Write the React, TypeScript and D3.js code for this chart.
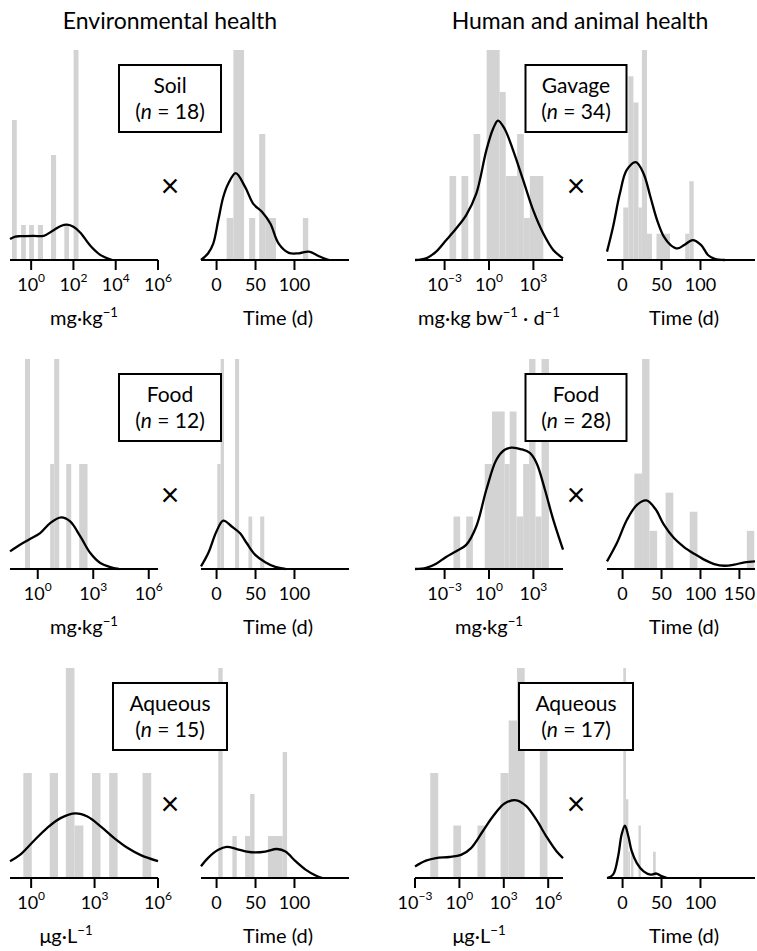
import React from "react";
import * as d3 from "d3";

// ---------------- DATA ----------------
// Concentration histograms: [log10 lower edge, log10 upper edge, count]
// Time histograms: [lower day, upper day, count]
// Density curves: [x (log10 or day), density in count units]

const soilConcBins = [[-0.905, -0.68, 4], [-0.476, -0.25, 1], [-0.095, 0.13, 1], [0.32, 0.56, 1], [0.94, 1.18, 3], [1.57, 1.79, 1], [2.01, 2.24, 6]];
const soilConcCurve = [[-1.0, 0.6], [-0.75, 0.67], [-0.52, 0.68], [0.11, 0.69], [0.59, 0.69], [1.06, 0.85], [1.4, 0.97], [1.7, 1.01], [2.0, 0.95], [2.33, 0.78], [2.81, 0.4], [3.29, 0.14], [3.84, 0.0]];
const soilTimeBins = [[12.9, 21.6, 1], [21.6, 35.3, 5], [41.8, 49.6, 1], [54.7, 62.5, 3], [62.5, 76.3, 1], [110.8, 117.7, 1]];
const soilTimeCurve = [[-20, 0], [-10.8, 0.16], [-4.3, 0.39], [2.2, 0.95], [8.6, 1.5], [15.1, 1.82], [24.6, 2.07], [36.6, 1.74], [47.4, 1.33], [58.2, 1.15], [69.0, 0.87], [79.7, 0.39], [92.7, 0.17], [105.6, 0.16], [118.5, 0.2], [131.5, 0.09], [144.4, 0]];

const gavageConcBins = [[-2.67, -2.22, 2], [-1.86, -1.4, 2], [-1.04, -0.59, 3], [-0.16, 0.72, 5], [0.72, 1.13, 4], [1.13, 1.9, 2], [1.9, 2.35, 3], [2.35, 2.76, 1], [2.76, 3.67, 2]];
const gavageConcCurve = [[-5.0, 0], [-4.25, 0.04], [-3.57, 0.2], [-2.9, 0.47], [-2.22, 0.75], [-1.54, 1.07], [-0.86, 1.58], [-0.18, 2.61], [0.27, 3.12], [0.61, 3.32], [1.06, 3.12], [1.63, 2.61], [2.31, 1.9], [2.99, 1.18], [3.67, 0.63], [4.34, 0.24], [5.0, 0.04]];
const gavageTimeBins = [[0.9, 7.4, 2], [7.4, 13.9, 7], [13.9, 20.4, 6], [20.4, 24.8, 2], [24.8, 31.3, 8], [31.3, 37.8, 1], [43.5, 60.9, 1], [80.4, 85.7, 1], [85.7, 91.3, 3]];
const gavageTimeCurve = [[-20, 0.32], [-12.2, 1.27], [-3.5, 2.53], [5.2, 3.42], [17.0, 3.73], [27.0, 3.29], [35.7, 2.41], [44.3, 1.52], [53.0, 0.89], [61.7, 0.57], [70.4, 0.44], [79.1, 0.57], [90.0, 0.76], [100.9, 0.57], [109.6, 0.19], [118.3, 0.04], [131.3, 0]];

const envFoodConcBins = [[-0.69, -0.42, 2], [0.67, 0.89, 1], [0.89, 1.16, 2], [1.54, 1.81, 1], [2.24, 2.69, 1]];
const envFoodConcCurve = [[-1.5, 0.168], [-0.96, 0.231], [-0.42, 0.285], [0.13, 0.342], [0.67, 0.437], [1.27, 0.491], [1.75, 0.453], [2.3, 0.311], [2.84, 0.152], [3.38, 0.057], [3.92, 0.019], [4.38, 0]];
const envFoodTimeBins = [[0.9, 5.2, 2], [5.2, 9.5, 4], [23.7, 28.9, 4], [40.9, 45.7, 1], [56.0, 61.2, 1]];
const envFoodTimeCurve = [[-20, 0.05], [-10.8, 0.3], [0, 0.72], [8.6, 0.92], [19.4, 0.81], [30.2, 0.68], [38.8, 0.49], [49.6, 0.27], [62.5, 0.13], [75.4, 0.04], [88.4, 0]];

const humFoodConcBins = [[-2.4, -1.95, 1], [-1.54, -1.09, 1], [-0.29, 0.2, 2], [0.2, 1.06, 3], [1.06, 1.4, 2], [1.4, 1.86, 3], [1.86, 2.31, 1], [2.31, 2.71, 2], [2.71, 3.14, 4], [3.14, 3.55, 1], [3.55, 4.05, 4]];
const humFoodConcCurve = [[-5.0, 0], [-4.25, 0.02], [-3.57, 0.1], [-2.9, 0.23], [-2.22, 0.34], [-1.54, 0.46], [-0.86, 0.81], [-0.18, 1.51], [0.5, 2.08], [1.06, 2.27], [1.52, 2.31], [2.19, 2.28], [2.76, 2.21], [3.21, 2.02], [3.78, 1.51], [4.34, 0.94], [5.0, 0.37]];
const humFoodTimeBins = [[15.1, 25.0, 5], [25.0, 34.5, 11], [34.5, 44.4, 2], [55.2, 65.1, 4], [86.2, 96.1, 3], [159.5, 169.0, 2]];
const humFoodTimeCurve = [[-20, 0.4], [-7.3, 1.36], [5.6, 2.58], [18.5, 3.36], [30.6, 3.59], [42.2, 3.14], [53.0, 2.32], [65.9, 1.62], [78.9, 1.15], [91.8, 0.8], [104.7, 0.49], [117.7, 0.26], [130.6, 0.17], [143.5, 0.23], [156.5, 0.35], [170, 0.4]];

const envAqConcBins = [[-0.37, 0.03, 2], [0.88, 1.27, 2], [1.64, 2.05, 4], [2.05, 2.47, 1], [2.88, 3.28, 2], [3.69, 4.09, 2], [5.27, 5.68, 2]];
const envAqConcCurve = [[-1.0, 0.32], [-0.53, 0.44], [0.11, 0.7], [0.75, 0.95], [1.39, 1.14], [2.1, 1.23], [2.66, 1.17], [3.3, 0.98], [3.93, 0.76], [4.57, 0.57], [5.21, 0.43], [6.0, 0.32]];
const envAqTimeBins = [[2.2, 7.8, 5], [20.3, 25.9, 1], [36.6, 43.1, 1], [43.1, 48.7, 2], [65.9, 84.9, 1], [84.9, 90.5, 3]];
const envAqTimeCurve = [[-20, 0.28], [-10.8, 0.48], [2.2, 0.67], [12.9, 0.74], [25.9, 0.69], [38.8, 0.63], [49.6, 0.61], [62.5, 0.63], [77.6, 0.69], [88.4, 0.63], [101.3, 0.4], [114.2, 0.2], [127.2, 0.06], [135.8, 0]];

const humAqConcBins = [[-1.97, -1.43, 2], [-0.41, 0.11, 1], [1.22, 1.76, 1], [2.78, 3.33, 2], [3.33, 3.89, 3], [3.89, 4.41, 4], [5.43, 5.95, 3]];
const humAqConcCurve = [[-3.0, 0.22], [-2.26, 0.33], [-1.58, 0.38], [-0.68, 0.4], [0.11, 0.44], [0.79, 0.57], [1.58, 0.89], [2.26, 1.17], [3.05, 1.42], [3.85, 1.48], [4.52, 1.37], [5.2, 1.11], [5.88, 0.79], [6.56, 0.51], [7.0, 0.38]];
const humAqTimeBins = [[0.9, 4.3, 8], [4.3, 7.4, 3], [7.4, 9.6, 1], [10.9, 13.9, 1], [20.4, 23.5, 2], [39.1, 42.6, 1]];
const humAqTimeCurve = [[-20, 0], [-12.2, 0.13], [-5.7, 0.83], [-1.3, 1.65], [3.0, 1.99], [7.4, 1.59], [11.7, 1.02], [18.3, 0.57], [27.0, 0.25], [35.7, 0.13], [43.5, 0.17], [50.9, 0.06], [57.4, 0]];

const columnTitles = ["Environmental health", "Human and animal health"];
const envMedia = ["Soil", "Food", "Aqueous"];
const envCounts = [18, 12, 15];
const humMedia = ["Gavage", "Food", "Aqueous"];
const humCounts = [34, 28, 17];

const timeDomain = [-20, 170];
const envConcDomains = [[-1, 6], [-1.5, 6.5], [-1, 6]];
const humConcDomains = [[-5, 5], [-5, 5], [-3, 7]];
const envConcTicks = [[0, 2, 4, 6], [0, 3, 6], [0, 3, 6]];
const humConcTicks = [[-3, 0, 3], [-3, 0, 3], [-3, 0, 3, 6]];
const envTimeTicks = [[0, 50, 100], [0, 50, 100], [0, 50, 100]];
const humTimeTicks = [[0, 50, 100], [0, 50, 100, 150], [0, 50, 100]];

type Seg = { t: string; sup?: boolean };
const mgkg: Seg[] = [{ t: "mg·kg" }, { t: "−1", sup: true }];
const mgkgbwd: Seg[] = [{ t: "mg·kg bw" }, { t: "−1", sup: true }, { t: " · d" }, { t: "−1", sup: true }];
const ugL: Seg[] = [{ t: "μg·L" }, { t: "−1", sup: true }];
const timeLabel: Seg[] = [{ t: "Time (d)" }];

const envConcLabels = [mgkg, mgkg, ugL];
const humConcLabels = [mgkgbwd, mgkg, ugL];

const envConcBinsAll = [soilConcBins, envFoodConcBins, envAqConcBins];
const envConcCurves = [soilConcCurve, envFoodConcCurve, envAqConcCurve];
const envTimeBinsAll = [soilTimeBins, envFoodTimeBins, envAqTimeBins];
const envTimeCurves = [soilTimeCurve, envFoodTimeCurve, envAqTimeCurve];
const humConcBinsAll = [gavageConcBins, humFoodConcBins, humAqConcBins];
const humConcCurves = [gavageConcCurve, humFoodConcCurve, humAqConcCurve];
const humTimeBinsAll = [gavageTimeBins, humFoodTimeBins, humAqTimeBins];
const humTimeCurves = [gavageTimeCurve, humFoodTimeCurve, humAqTimeCurve];

// ---------------- LAYOUT ----------------
const FONT = "Lato, 'Open Sans', sans-serif";
const PW = 148;
const PH = 210;
const colLeft = { envConc: 10, envTime: 201, humConc: 415, humTime: 607 };
const rowAxisY = [260, 569, 878];
const boxCx = [170, 576];
const boxW = [[102, 102, 114], [101, 101, 114]];
const concLabelCx = [[84, 84, 66], [489, 489, 479]];
const timeLabelDx = 3;
const BAR = "#d3d3d3";
const TICK_FS = 18;
const LABEL_FS = 20;
const BOX_FS = 21;
const TITLE_FS = 23;

function Label({ segs, x, y, size }: { segs: Seg[]; x: number; y: number; size: number }) {
  const out: any[] = [];
  let shifted = false;
  segs.forEach((s, i) => {
    if (s.sup) {
      out.push(
        <tspan key={i} dy={shifted ? 0 : -size * 0.42} fontSize={size * 0.66}>
          {s.t}
        </tspan>
      );
      shifted = true;
    } else {
      out.push(
        <tspan key={i} dy={shifted ? size * 0.42 : 0}>
          {s.t}
        </tspan>
      );
      shifted = false;
    }
  });
  return (
    <text x={x} y={y} textAnchor="middle" fontSize={size} fontFamily={FONT} style={{ whiteSpace: "pre" }}>
      {out}
    </text>
  );
}

function Panel(props: {
  left: number;
  axisY: number;
  domain: number[];
  isLog: boolean;
  ticks: number[];
  bins: number[][];
  curve: number[][];
  label: Seg[];
  labelCx: number;
}) {
  const { left, axisY, domain, isLog, ticks, bins, curve, label, labelCx } = props;
  const x = d3.scaleLinear().domain(domain).range([left, left + PW]);
  const maxC = d3.max(bins, (b) => b[2]) as number;
  const y = d3.scaleLinear().domain([0, maxC]).range([axisY, axisY - PH]);
  const line = d3
    .line<number[]>()
    .x((d) => x(d[0]))
    .y((d) => y(d[1]))
    .curve(d3.curveCatmullRom.alpha(0.5));
  return (
    <g>
      {bins.map((b, i) => (
        <rect key={i} x={x(b[0])} y={y(b[2])} width={x(b[1]) - x(b[0])} height={y(0) - y(b[2])} fill={BAR} />
      ))}
      <path d={line(curve) || ""} fill="none" stroke="#000" strokeWidth={2.3} strokeLinejoin="round" />
      <line x1={left} x2={left + PW} y1={axisY} y2={axisY} stroke="#000" strokeWidth={2} />
      {ticks.map((t) => (
        <g key={t}>
          <line x1={x(t)} x2={x(t)} y1={axisY} y2={axisY + 10} stroke="#000" strokeWidth={2} />
          {isLog ? (
            <text x={x(t)} y={axisY + 31} textAnchor="middle" fontSize={TICK_FS} fontFamily={FONT}>
              <tspan>10</tspan>
              <tspan dy={-9} fontSize={12}>
                {t < 0 ? "−" + Math.abs(t) : String(t)}
              </tspan>
            </text>
          ) : (
            <text x={x(t)} y={axisY + 31} textAnchor="middle" fontSize={TICK_FS} fontFamily={FONT}>
              {t}
            </text>
          )}
        </g>
      ))}
      <Label segs={label} x={labelCx} y={axisY + 65} size={LABEL_FS} />
    </g>
  );
}

function Box({ cx, axisY, w, name, n }: { cx: number; axisY: number; w: number; name: string; n: number }) {
  const top = axisY - 195;
  return (
    <g fontFamily={FONT} fontSize={BOX_FS}>
      <rect x={cx - w / 2} y={top} width={w} height={67} fill="#fff" stroke="#000" strokeWidth={2} />
      <text x={cx} y={top + 28} textAnchor="middle">
        {name}
      </text>
      <text x={cx} y={top + 54} textAnchor="middle" style={{ whiteSpace: "pre" }}>
        <tspan>(</tspan>
        <tspan fontStyle="italic">n</tspan>
        <tspan>{" = " + n + ")"}</tspan>
      </text>
      <text x={cx} y={axisY - 63} textAnchor="middle" fontSize={32} fill="#000">
        ×
      </text>
    </g>
  );
}

export default function App() {
  return (
    <svg
      width={757}
      height={951}
      style={{ position: "absolute", left: 0, top: 0, background: "#fff" }}
      fontFamily={FONT}
    >
      <rect width={757} height={951} fill="#fff" />
      <text x={170} y={29} textAnchor="middle" fontSize={TITLE_FS}>
        {columnTitles[0]}
      </text>
      <text x={580} y={29} textAnchor="middle" fontSize={TITLE_FS}>
        {columnTitles[1]}
      </text>
      {rowAxisY.map((ay, r) => (
        <g key={r}>
          <Panel left={colLeft.envConc} axisY={ay} domain={envConcDomains[r]} isLog ticks={envConcTicks[r]} bins={envConcBinsAll[r]} curve={envConcCurves[r]} label={envConcLabels[r]} labelCx={concLabelCx[0][r]} />
          <Panel left={colLeft.envTime} axisY={ay} domain={timeDomain} isLog={false} ticks={envTimeTicks[r]} bins={envTimeBinsAll[r]} curve={envTimeCurves[r]} label={timeLabel} labelCx={colLeft.envTime + PW / 2 + timeLabelDx} />
          <Panel left={colLeft.humConc} axisY={ay} domain={humConcDomains[r]} isLog ticks={humConcTicks[r]} bins={humConcBinsAll[r]} curve={humConcCurves[r]} label={humConcLabels[r]} labelCx={concLabelCx[1][r]} />
          <Panel left={colLeft.humTime} axisY={ay} domain={timeDomain} isLog={false} ticks={humTimeTicks[r]} bins={humTimeBinsAll[r]} curve={humTimeCurves[r]} label={timeLabel} labelCx={colLeft.humTime + PW / 2 + timeLabelDx} />
          <Box cx={boxCx[0]} axisY={ay} w={boxW[0][r]} name={envMedia[r]} n={envCounts[r]} />
          <Box cx={boxCx[1]} axisY={ay} w={boxW[1][r]} name={humMedia[r]} n={humCounts[r]} />
        </g>
      ))}
    </svg>
  );
}
